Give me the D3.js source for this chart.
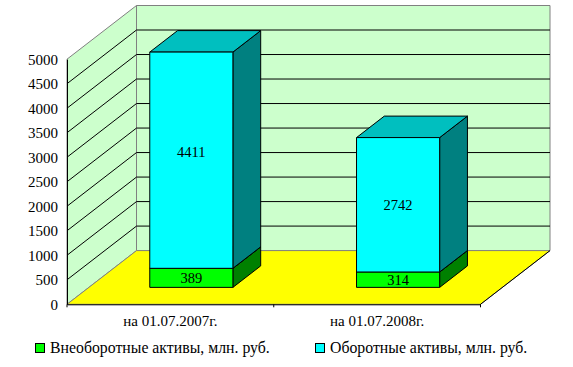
<!DOCTYPE html>
<html>
<head>
<meta charset="utf-8">
<style>
  html, body { margin: 0; padding: 0; background: #fff; }
  svg { display: block; }
  text { font-family: "Liberation Serif", serif; fill: #000; }
</style>
</head>
<body>
<svg id="chart" width="573" height="367"></svg>
<script src="https://cdn.jsdelivr.net/npm/d3@7"></script>
<script>
const categories = ['на 01.07.2007г.', 'на 01.07.2008г.'];
const seriesNames = ['Внеоборотные активы, млн. руб.', 'Оборотные активы, млн. руб.'];
const fixedAssets = [389, 314];
const currentAssets = [4411, 2742];
const yTicks = [0, 500, 1000, 1500, 2000, 2500, 3000, 3500, 4000, 4500, 5000];

const colours = [
  { front: '#00ff00', side: '#008000', top: '#00bf00' },
  { front: '#00ffff', side: '#008080', top: '#00bfbf' }
];

const svg = d3.select('#chart');

// front plane scales
const y = d3.scaleLinear().domain([0, 5000]).range([304.3, 59.2]);
const x = d3.scaleBand().domain(categories).range([67, 480.5]);

// depth goes 0 (front) to 1 (back wall), projected up and to the right
const depthX = d3.scaleLinear().domain([0, 1]).range([0, 69.5]);
const depthY = d3.scaleLinear().domain([0, 1]).range([0, -53.7]);
const pt = (px, val, depth) => [px + depthX(depth), y(val) + depthY(depth)];
const poly = pts => d3.line()(pts) + 'Z';

const x0 = x.range()[0], x1 = x.range()[1];

// walls and floor
const walls = svg.append('g');
walls.append('path')
  .attr('d', poly([pt(x0, 0, 0), pt(x0, 5000, 0), pt(x0, 5000, 1), pt(x0, 0, 1)]))
  .attr('fill', '#ccffcc').attr('stroke', '#808080');
walls.append('path')
  .attr('d', poly([pt(x0, 0, 1), pt(x0, 5000, 1), pt(x1, 5000, 1), pt(x1, 0, 1)]))
  .attr('fill', '#ccffcc').attr('stroke', '#808080');
walls.append('path')
  .attr('d', poly([pt(x0, 0, 0), pt(x0, 0, 1), pt(x1, 0, 1), pt(x1, 0, 0)]))
  .attr('fill', '#ffff00').attr('stroke', '#808080');
walls.append('path')
  .attr('d', d3.line()([pt(x1, 0, 0), pt(x1, 0, 1)]))
  .attr('stroke', '#000').attr('fill', 'none');

// gridlines on left and back wall
const grid = svg.append('g').attr('stroke', '#000').attr('fill', 'none');
yTicks.filter(d => d > 0 && d < 5000).forEach(d => {
  grid.append('path').attr('d', d3.line()([pt(x0, d, 0), pt(x0, d, 1), pt(x1, d, 1)]));
});

// stacked 3d bars
const barFront = 0.315, barBack = 0.715;
const stack = d3.stack().keys([0, 1]).value((row, k) => row[k]);
const rows = categories.map((c, i) => [fixedAssets[i], currentAssets[i]]);
const layers = stack(rows);

layers.forEach((layer, k) => {
  const c = colours[k];
  layer.forEach((d, i) => {
    const left = x(categories[i]) + x.bandwidth() * 0.2945;
    const right = left + x.bandwidth() * 0.402;
    const g = svg.append('g').attr('stroke', '#000').attr('stroke-width', 1);
    g.append('path').attr('fill', c.side)
      .attr('d', poly([pt(right, d[0], barFront), pt(right, d[1], barFront), pt(right, d[1], barBack), pt(right, d[0], barBack)]));
    g.append('path').attr('fill', c.top)
      .attr('d', poly([pt(left, d[1], barFront), pt(right, d[1], barFront), pt(right, d[1], barBack), pt(left, d[1], barBack)]));
    g.append('path').attr('fill', c.front)
      .attr('d', poly([pt(left, d[0], barFront), pt(left, d[1], barFront), pt(right, d[1], barFront), pt(right, d[0], barFront)]));
    const mid = pt((left + right) / 2, (d[0] + d[1]) / 2, barFront);
    // the 4411 label sits above its segment centre in the original
    const nudge = (d[1] - d[0]) === 4411 ? -8.5 : 0;
    svg.append('text')
      .attr('x', mid[0]).attr('y', mid[1] + nudge).attr('dy', '0.34em')
      .attr('text-anchor', 'middle').attr('font-size', 14.5)
      .text(d[1] - d[0]);
  });
});

// axes
const yAxis = d3.axisLeft(y).tickValues(yTicks).tickFormat(d3.format('d')).tickSize(0).tickPadding(9);
const yG = svg.append('g').attr('transform', `translate(${x0},0)`).call(yAxis);
yG.select('.domain').attr('stroke', '#000');
yG.selectAll('text').attr('font-size', 15).attr('font-family', '"Liberation Serif", serif');

const xAxis = d3.axisBottom(x).tickSize(0).tickPadding(11);
const xG = svg.append('g').attr('transform', `translate(0,${y(0)})`).call(xAxis);
xG.select('.domain').attr('stroke', '#000');
xG.selectAll('text').attr('font-size', 15).attr('font-family', '"Liberation Serif", serif');
x.domain().concat('end').forEach((c, i) => {
  const tx = x0 + i * x.bandwidth();
  xG.append('line').attr('x1', tx).attr('x2', tx).attr('y1', 0).attr('y2', 3).attr('stroke', '#000');
});

// legend
const legendX = [35.5, 315.5];
seriesNames.forEach((name, i) => {
  const g = svg.append('g').attr('transform', `translate(${legendX[i]},343.5)`);
  g.append('rect').attr('width', 9).attr('height', 9)
    .attr('fill', colours[i].front).attr('stroke', '#000');
  g.append('text').attr('x', 14.5).attr('y', 9.5).attr('font-size', 15.8).text(name);
});
</script>
</body>
</html>
